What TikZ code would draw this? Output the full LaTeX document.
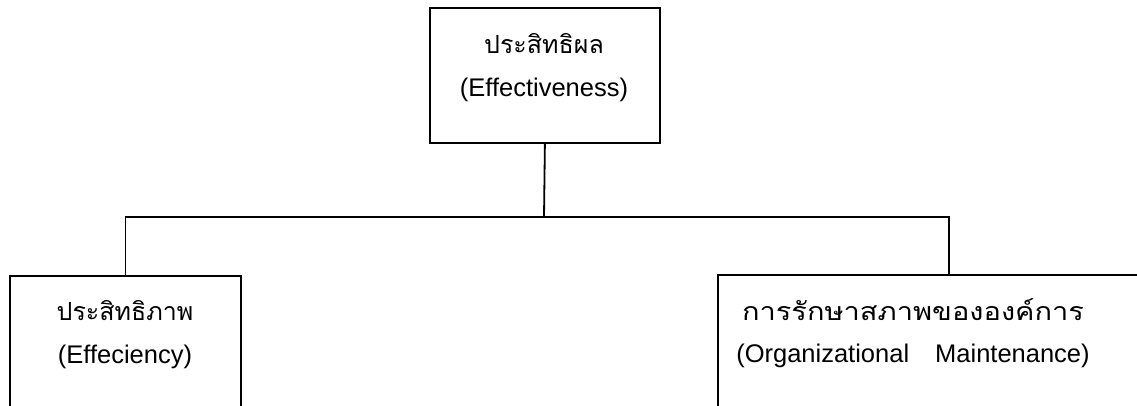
\documentclass[tikz,border=0pt]{standalone}
\usepackage{graphicx}
\usepackage{fontspec}
\setmainfont{Liberation Sans}
\newfontfamily\thaifont[Script=Thai]{Loma}
\begin{document}
\begin{tikzpicture}[x=1pt,y=-1pt,
  box/.style={draw=black, line width=1.8pt, fill=none, anchor=north west, inner sep=0pt},
  conn/.style={draw=black, line width=1.8pt},
  en/.style={font=\fontsize{25.5}{30}\selectfont, inner sep=0pt},
  th/.style={font=\thaifont\fontsize{25}{30}\selectfont, inner sep=0pt}]
\useasboundingbox (0,0) rectangle (1137,405);
\clip (0,0) rectangle (1137,405);
\fill[white] (0,0) rectangle (1137,405);
\node[box, minimum width=230pt, minimum height=135pt] (top) at (429,7) {};
\node[box, minimum width=231pt, minimum height=200pt] (left) at (9,275) {};
\node[box, minimum width=462pt, minimum height=200pt] (right) at (717,274) {};
\node[th] (topth) at (544,44) {ประสิทธิผล};
\node[en] (topen) at (544,90) {(Effectiveness)};
\node[th] (leftth) at (125,311) {ประสิทธิภาพ};
\node[en] (leften) at (125,357) {(Effeciency)};
\node[th] (rightth) at (913,310) {\scalebox{1.16}[1]{การรักษาสภาพขององค์การ}};
\node[en] (righten) at (913,356) {(Organizational\hspace{26pt}Maintenance)};
\coordinate (hub) at (544,217);
\draw[conn] (top.south) -- (hub);
\draw[conn] (left.north) |- (hub) -| (right.north);
\end{tikzpicture}
\end{document}
